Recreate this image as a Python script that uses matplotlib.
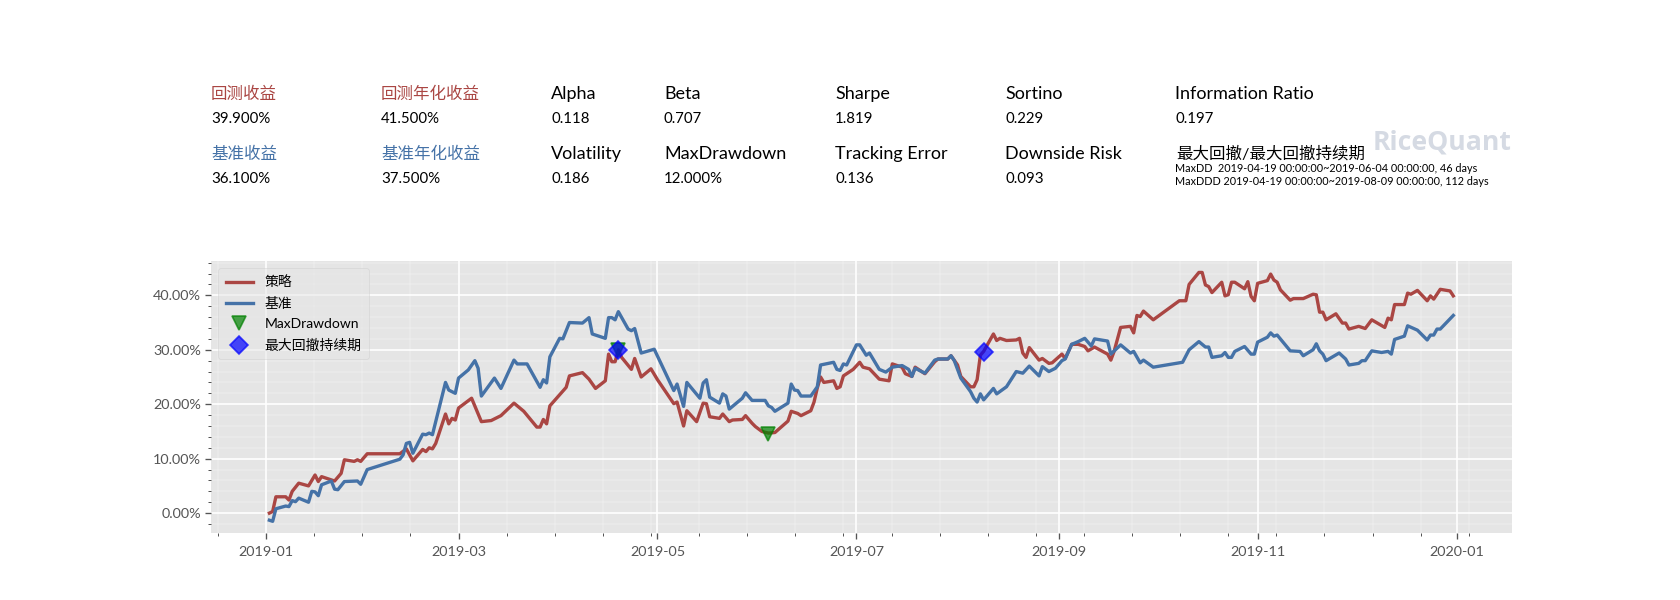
import matplotlib
matplotlib.use('Agg')
import matplotlib.pyplot as plt
import matplotlib.dates as mdates
from matplotlib.ticker import AutoMinorLocator, FuncFormatter
import pandas as pd

RED = '#aa4643'
BLUE = '#4572a7'

# days since 2019-01-01, cumulative return in percent
strategy_days = [1, 2, 3, 6, 7, 8, 10, 13, 15, 16, 17, 21, 23, 24, 27, 28, 29, 31, 41, 43, 45, 48, 49, 50, 51, 52,
                 55, 56, 57, 58, 59, 63, 66, 69, 72, 76, 79, 83, 84, 85, 86, 87, 92, 93, 97, 99, 101, 104, 105, 106,
                 107, 108, 109, 112, 113, 115, 118, 120, 125, 126, 128, 129, 132, 134, 135, 136, 139, 140, 142, 143,
                 146, 147, 149, 150, 152, 154, 156, 160, 161, 163, 164, 167, 168, 169, 170, 171, 174, 175, 176, 177,
                 180, 182, 183, 185, 188, 191, 192, 195, 196, 198, 199, 202, 205, 206, 209, 210, 212, 213, 216, 217,
                 218, 219, 220, 223, 224, 225, 227, 230, 231, 232, 233, 234, 237, 238, 240, 241, 244, 245, 247, 249,
                 251, 252, 254, 258, 259, 260, 262, 265, 266, 267, 268, 269, 272, 280, 282, 283, 286, 287, 288, 289,
                 290, 293, 294, 295, 296, 297, 300, 301, 302, 303, 304, 307, 308, 309, 310, 311, 314, 315, 318, 321,
                 322, 323, 324, 325, 328, 330, 331, 332, 335, 337, 339, 343, 344, 345, 346, 349, 350, 351, 353, 356,
                 357, 358, 360, 363, 364]
strategy_returns = [0.0, 0.3, 3.0, 3.0, 2.4, 4.0, 5.5, 5.0, 7.0, 5.8, 6.7, 5.9, 7.3, 9.8, 9.5, 9.8, 9.5, 10.9, 10.9,
                    11.8, 9.6, 11.7, 11.3, 12.0, 11.8, 12.8,
                    18.2, 16.4, 17.4, 17.1, 19.3, 21.1, 16.8, 17.0, 17.9, 20.2, 18.7, 15.8, 15.8, 17.2, 16.4, 19.7,
                    23.1, 25.2, 25.8, 24.6, 22.9, 24.3, 29.2, 27.8,
                    27.8, 30.0, 28.6, 26.4, 28.4, 25.0, 26.5, 24.5, 20.1, 20.4, 16.0, 18.8, 16.8, 20.2, 20.1, 17.7,
                    17.4, 18.2, 16.8, 17.1,
                    17.2, 17.9, 16.5, 15.9, 15.0, 14.7, 14.8, 16.9, 18.7, 18.3, 17.9, 18.8, 20.4, 23.0, 25.0, 24.0,
                    24.3, 22.9, 23.2, 25.2,
                    26.4, 27.7, 26.8, 26.5, 24.6, 24.3, 27.4, 26.8, 25.6, 25.1, 26.8, 25.6, 27.8, 28.3, 28.3, 28.9,
                    27.2, 25.1, 23.2, 23.2,
                    24.5, 29.0, 29.7, 32.9, 31.7, 32.1, 31.7, 31.8, 32.1, 29.4, 28.6, 30.4, 28.1, 28.4, 27.5, 27.6,
                    29.2, 28.4, 31.0, 31.0,
                    30.6, 29.8, 30.5, 29.2, 28.1, 29.7, 34.1, 34.3, 33.1, 36.3, 36.1, 37.1, 35.5, 39.0, 39.0, 42.0,
                    44.2, 44.2, 41.9, 41.6,
                    40.5, 42.4, 39.9, 40.1, 42.4, 42.4, 41.2, 42.5, 39.8, 39.0, 42.2, 42.7, 43.9, 42.8, 42.4, 41.0,
                    39.1, 39.4, 39.4, 40.2,
                    40.1, 36.9, 36.9, 35.5, 36.6, 34.9, 34.9, 33.8, 34.3, 33.9, 35.5, 34.1, 35.8, 35.5, 38.3, 38.3,
                    40.4, 40.2, 40.9, 39.0,
                    39.9, 39.3, 41.1, 40.8, 39.9]

benchmark_days = [1, 2, 3, 6, 7, 8, 9, 10, 13, 14, 15, 16, 17, 20, 21, 22, 24, 28, 29, 31, 41, 42, 43, 44, 45, 48, 49,
                  50, 51, 55, 56, 58, 59, 62, 64, 65, 66, 70, 72, 76, 77, 80, 84, 85, 86, 87, 90, 91, 93, 97, 99, 100,
                  101, 104, 105, 106, 107, 108, 111, 112, 113, 115, 119, 125, 126, 128, 129, 133, 134, 135, 136, 139,
                  140, 141, 142, 146, 147, 149, 153, 154, 155, 156, 160, 161, 162, 163, 164, 167, 169, 170, 174, 175,
                  176, 177, 178, 181, 182, 184, 185, 188, 190, 192, 195, 197, 198, 199, 202, 205, 206, 209, 210, 211,
                  213, 216, 217, 218, 219, 220, 223, 224, 227, 230, 232, 234, 237, 238, 240, 242, 244, 245, 247, 249,
                  251, 253, 254, 258, 259, 262, 265, 266, 268, 269, 272, 281, 283, 286, 288, 289, 290, 293, 294, 295,
                  296, 297, 300, 302, 303, 304, 307, 308, 309, 310, 314, 317, 318, 321, 322, 323, 324, 325, 329, 331,
                  332, 335, 336, 337, 339, 342, 344, 345, 346, 349, 350, 353, 356, 357, 358, 359, 360, 364]
benchmark_returns = [-1.3, -1.5, 0.8, 1.3, 1.2, 2.3, 2.1, 2.75, 2.0, 4.0, 3.9, 3.2, 5.2, 5.9, 4.4, 4.3, 5.8, 5.9, 5.3,
                     8.0, 9.9, 10.7, 12.8, 13.0, 11.0, 14.5, 14.4,
                     14.7, 14.4, 24.0, 22.6, 22.0, 24.8, 26.3, 28.0, 26.6, 21.5, 24.8, 22.9, 28.1, 27.4, 27.4, 23.1,
                     24.5, 23.9, 28.7, 32.1, 32.0, 35.0, 34.9, 35.9, 32.9,
                     32.7, 32.1, 35.9, 35.9, 35.5, 37.0, 33.8, 33.5, 33.9, 29.4, 30.1, 22.5, 23.7, 19.6, 24.0, 21.1,
                     23.9, 24.5, 21.3, 20.2,
                     21.9, 21.5, 19.1, 21.1, 22.1, 20.7, 20.7, 19.7, 19.4, 18.7, 20.2, 23.7, 22.6, 22.5, 21.5, 21.5,
                     23.2, 27.2, 27.7, 26.4,
                     26.2, 27.4, 27.2, 30.9, 30.9, 29.0, 29.4, 26.4, 25.9, 26.8, 27.1, 26.4, 25.1, 26.6, 25.7, 28.1,
                     28.3, 28.3, 28.9, 28.0,
                     24.8, 22.3, 21.1, 20.4, 21.9, 20.8, 22.9, 21.9, 23.2, 26.0, 25.7, 27.0, 25.2, 26.9, 26.0, 26.6,
                     28.0, 28.3, 31.0, 31.5,
                     32.1, 30.7, 32.0, 31.6, 29.2, 30.9, 29.4, 29.7, 27.6, 28.1, 26.8, 27.7, 30.0, 31.5, 30.5, 30.5,
                     28.6, 28.9, 29.5, 28.6,
                     28.6, 29.7, 30.6, 29.2, 29.2, 31.4, 32.3, 33.1, 32.5, 32.7, 29.8, 29.7, 28.9, 30.0, 31.1, 29.8,
                     29.2, 28.0, 29.4, 28.3,
                     27.2, 27.5, 28.0, 28.0, 29.8, 29.5, 29.7, 29.2, 31.9, 32.5, 34.4, 33.6, 31.8, 32.7, 32.7, 33.8,
                     33.8, 36.3]

drawdown_dates = ['2019-04-19', '2019-06-04']
drawdown_values = [30.0, 14.5]
duration_dates = ['2019-04-19', '2019-08-09']
duration_values = [30.0, 29.5]

top_metrics = [('回测收益', '39.900%', RED), ('回测年化收益', '41.500%', RED), ('Alpha', '0.118', 'black'),
               ('Beta', '0.707', 'black'), ('Sharpe', '1.819', 'black'), ('Sortino', '0.229', 'black'),
               ('Information Ratio', '0.197', 'black')]
bottom_metrics = [('基准收益', '36.100%', BLUE), ('基准年化收益', '37.500%', BLUE), ('Volatility', '0.186', 'black'),
                  ('MaxDrawdown', '12.000%', 'black'), ('Tracking Error', '0.136', 'black'),
                  ('Downside Risk', '0.093', 'black')]
column_x = [211, 381, 551, 664, 835, 1005, 1175]

plt.style.use('ggplot')
plt.rcParams['font.family'] = ['Lato', 'Noto Sans CJK SC', 'DejaVu Sans']

fig = plt.figure(figsize=(14, 5), dpi=120)


def put_text(x, y, s, **kw):
    # x and y are pixels from the top left corner
    fig.text(x / 1680, 1 - y / 600, s, va='center', **kw)


def put_metric(x, y, name, value, color):
    # chinese headers run wider than latin ones at the same size
    size = 9.9 if color != 'black' else 10.8
    put_text(x, y, name, color=color, fontsize=size)
    put_text(x, y + 25, value, color='black', fontsize=9)


for x, (name, value, color) in zip(column_x, top_metrics):
    put_metric(x, 94, name, value, color)
for x, (name, value, color) in zip(column_x, bottom_metrics):
    put_metric(x, 154, name, value, color)

put_text(1176, 154, '最大回撤/最大回撤持续期', color='black', fontsize=9.9)
put_text(1175, 168, 'MaxDD  2019-04-19 00:00:00~2019-06-04 00:00:00, 46 days', color='black', fontsize=6.55)
put_text(1175, 181, 'MaxDDD 2019-04-19 00:00:00~2019-08-09 00:00:00, 112 days', color='black', fontsize=6.55)
put_text(1373, 142, 'RiceQuant', color='#d5dae3', fontsize=16, fontweight='bold', family='Open Sans')

ax = fig.add_axes([211 / 1680, 1 - 533 / 600, (1512 - 211) / 1680, (533 - 261) / 600])

base = pd.Timestamp('2019-01-01')
ax.plot(base + pd.to_timedelta(strategy_days, unit='D'), strategy_returns, lw=2, color=RED, label='策略')
ax.plot(base + pd.to_timedelta(benchmark_days, unit='D'), benchmark_returns, lw=2, color=BLUE, label='基准')
ax.plot(pd.to_datetime(drawdown_dates), drawdown_values, 'v', color='green', alpha=.7, markersize=8,
        label='MaxDrawdown')
ax.plot(pd.to_datetime(duration_dates), duration_values, 'D', color='blue', alpha=.7, markersize=8,
        label='最大回撤持续期')

ax.set_xlim(base - pd.Timedelta(days=16.9), base + pd.Timedelta(days=382))
ax.set_ylim(-3.65, 46.3)
ax.xaxis.set_major_locator(mdates.MonthLocator(bymonth=[1, 3, 5, 7, 9, 11]))
ax.xaxis.set_major_formatter(mdates.DateFormatter('%Y-%m'))
ax.xaxis.set_minor_locator(AutoMinorLocator())
ax.yaxis.set_minor_locator(AutoMinorLocator())
ax.yaxis.set_major_formatter(FuncFormatter(lambda v, pos: '%.2f%%' % v))
ax.grid(True, which='minor', color='white', linewidth=.2)
ax.grid(True, which='major', color='white', linewidth=1)
ax.tick_params(axis='both', which='major', labelsize=8.6, colors='#555555')
ax.tick_params(axis='both', which='minor', colors='#555555')
ax.tick_params(axis='y', which='major', pad=2.5)
ax.tick_params(axis='x', which='major', pad=4.5)
for spine in ax.spines.values():
    spine.set_visible(False)

leg = ax.legend(loc='upper left', fontsize=8.3, labelspacing=0.6, borderpad=0.55)
leg.get_frame().set_alpha(0.5)

fig.savefig('out.png', dpi=120)
